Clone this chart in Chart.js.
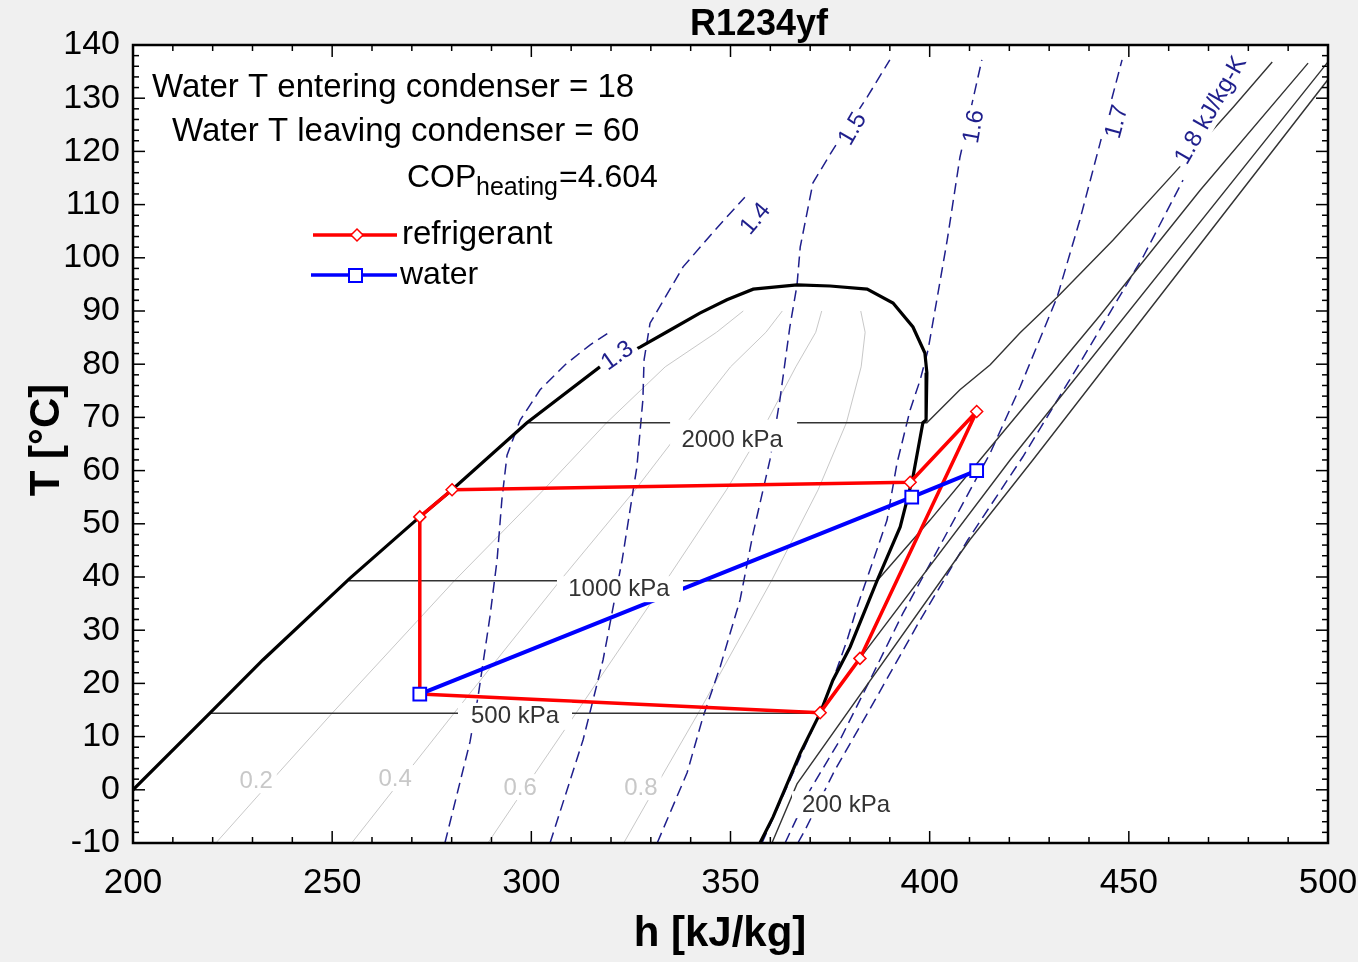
<!DOCTYPE html>
<html lang="en">
<head>
  <meta charset="UTF-8">
  <title>R1234yf</title>
  <script src="https://cdn.jsdelivr.net/npm/chart.js@4"></script>
  <style>
    html, body { margin: 0; padding: 0; background: #f0f0f0; }
    canvas { display: block; }
  </style>
</head>
<body>
  <canvas id="myChart" width="1358" height="962"></canvas>

  <script>
    // all curves are [h kJ/kg, T °C] pairs

    // saturation dome: liquid side, over the top, down the vapour side
    const dome = [
      [196.0, -3.0], [200.0, 0.0], [219.3, 14.4], [232.6, 24.4], [254.5, 39.8], [272.0, 51.3],
      [280.1, 56.4], [298.9, 69.0], [317.2, 79.5], [327.3, 83.2], [334.1, 86.1], [342.3, 89.6],
      [349.1, 92.1], [355.7, 94.1], [366.7, 94.9], [375.0, 94.7], [384.3, 94.1], [390.8, 91.5],
      [395.8, 87.0], [398.8, 82.1], [399.3, 78.4], [399.1, 69.5], [398.3, 69.0], [395.8, 58.8],
      [392.6, 49.4], [386.8, 39.3], [380.0, 26.8], [375.7, 20.6], [372.5, 14.4], [367.5, 6.9],
      [360.7, -5.1], [357.4, -10.0], [356.2, -12.3]
    ];

    // isobars
    const p2000 = [[298.9, 69.0], [399.3, 69.0], [407.6, 75.2], [415.2, 79.9], [422.7, 85.9],
      [432.0, 92.6], [446.0, 103.3], [461.6, 116.1], [476.2, 128.3], [486.0, 136.8]];
    const p1000 = [[254.2, 39.3], [386.8, 39.3], [400.1, 50.7], [412.6, 62.0], [442.8, 89.2],
      [467.9, 112.7], [495.0, 136.6]];
    const p500 = [[219.3, 14.4], [372.5, 14.4], [382.5, 24.7], [420.2, 62.0], [498.8, 135.7], [500.5, 137.3]];
    const p200 = [[357.6, -13.0], [360.4, -10.0], [366.7, 1.1], [410.1, 47.0], [425.9, 62.0], [500.5, 134.0]];

    // vapour quality lines
    const x02 = [[220.8, -10], [232.7, 0], [250.0, 14.4], [280.7, 39.3], [303.1, 56.4], [318.9, 69], [333.6, 79.5], [346.5, 86], [353.2, 90]];
    const x04 = [[254.9, -10], [265.4, 0], [280.6, 14.4], [307.2, 39.3], [326.1, 56.4], [339.0, 69], [350.0, 79.5], [358.9, 86], [363.0, 90]];
    const x06 = [[289.1, -10], [298.1, 0], [311.2, 14.4], [333.8, 39.3], [349.0, 56.4], [359.0, 69], [366.4, 79.5], [371.4, 86], [372.9, 90]];
    const x08 = [[323.2, -10], [330.8, 0], [341.9, 14.4], [360.3, 39.3], [372.0, 56.4], [379.1, 69], [382.8, 79.5], [383.8, 86], [382.7, 90]];

    // isentropes, kJ/kg-K
    const s13 = [[278.3, -10], [284.6, 9.0], [286.6, 17.4], [289.6, 32.5], [291.4, 43.2], [292.6, 54.5],
      [293.9, 62.9], [297.2, 69.5], [302.2, 75.2], [308.5, 79.9], [314.7, 83.6], [319.8, 86.1]];
    const s14 = [[304.7, -10], [313.0, 9.4], [318.0, 24.4], [322.8, 43.2], [326.5, 60.7], [328.0, 73.3],
      [328.3, 80.8], [329.8, 87.7], [338.1, 98.3], [346.1, 105.2], [353.6, 111.4]];
    const s15 = [[331.6, -10], [339.1, 3.2], [343.1, 13.7], [347.4, 23.1], [352.4, 35.7], [355.7, 48.3],
      [359.9, 62.0], [362.4, 73.3], [364.9, 87.0], [366.7, 94.9], [367.5, 102.0], [370.7, 114.1],
      [375.7, 120.3], [384.3, 130.2], [390.0, 137.2]];
    const s16 = [[357.9, -10], [364.9, 1.8], [372.5, 14.6], [375.7, 20.6], [379.3, 28.2], [381.8, 34.4],
      [385.0, 41.3], [389.3, 50.7], [391.8, 61.4], [395.1, 71.4], [397.6, 77.0], [399.6, 82.7],
      [401.8, 92.1], [404.4, 103.3], [407.6, 118.9], [413.1, 137.2]];
    const s17 = [[363.7, -10], [370.0, 0.0], [377.5, 9.4], [385.0, 20.6], [393.3, 33.2], [403.4, 47.0],
      [415.2, 63.3], [422.7, 75.7], [432.0, 92.6], [437.7, 107.1], [442.8, 121.6], [448.3, 137.2]];
    const s18 = [[366.9, -10], [368.7, -7.6], [376.2, 3.7], [386.3, 16.9], [397.6, 31.9], [409.6, 47.0],
      [423.4, 62.6], [437.7, 80.2], [453.6, 100.2], [463.6, 114.6]];

    // heat pump cycle and condenser water
    const refrigerant = [[372.5, 14.5], [382.5, 24.7], [411.8, 71.1], [395.1, 57.8], [280.1, 56.4],
      [272.0, 51.3], [272.0, 18.0], [372.5, 14.5]];
    const water = [[272.0, 18.0], [395.5, 55.0], [411.8, 60.0]];

    const waterIn = 18;
    const waterOut = 60;
    const copHeating = 4.604;

    const FONT = "'Liberation Sans', Arial, sans-serif";
    const NAVY = '#1f1f8c';

    // curve labels; gap = [left, right, up, down] of the white box around the text
    const curveLabels = [
      {text: '2000 kPa', h: 350.4, t: 65.8, size: 24, color: '#333', gap: [62, 65, 20, 12]},
      {text: '1000 kPa', h: 322.0, t: 37.9, size: 24, color: '#333', gap: [62, 64, 12, 14]},
      {text: '500 kPa', h: 295.9, t: 13.9, size: 24, color: '#333', gap: [57, 57, 13, 14]},
      {text: '200 kPa', h: 379.0, t: -2.7, size: 24, color: '#333', gap: [54, 48, 13, 14]},
      {text: '0.2', h: 230.9, t: 1.8, size: 24, color: '#c8c8c8'},
      {text: '0.4', h: 265.8, t: 2.2, size: 24, color: '#c8c8c8'},
      {text: '0.6', h: 297.2, t: 0.5, size: 24, color: '#c8c8c8'},
      {text: '0.8', h: 327.5, t: 0.5, size: 24, color: '#c8c8c8'},
      {text: '1.3', h: 321.5, t: 81.7, size: 24, color: NAVY, angle: -35},
      {text: '1.4', h: 356.1, t: 107.4, size: 24, color: NAVY, angle: -50},
      {text: '1.5', h: 380.5, t: 124.3, size: 24, color: NAVY, angle: -60},
      {text: '1.6', h: 410.9, t: 124.7, size: 24, color: NAVY, angle: -80},
      {text: '1.7', h: 446.8, t: 125.6, size: 24, color: NAVY, angle: -75},
      {text: '1.8 kJ/kg-K', h: 470.4, t: 127.8, size: 24, color: NAVY, angle: -60}
    ];

    const pts = arr => arr.map(([x, y]) => ({x, y}));

    const curve = (arr, color, width, dash) => ({
      data: pts(arr),
      showLine: true,
      borderColor: color,
      borderWidth: width,
      borderDash: dash || [],
      pointRadius: 0,
      clip: 0
    });

    const refMarkers = [6, 6, 6, 6, 6, 6, 0, 0];

    const datasets = [
      {
        data: pts(water), showLine: true, borderColor: '#0000ff', borderWidth: 4,
        pointStyle: 'rect', pointRadius: 9, pointBorderWidth: 2,
        pointBorderColor: '#0000ff', pointBackgroundColor: '#fff', clip: 0
      },
      {
        data: pts(refrigerant), showLine: true, borderColor: '#ff0000', borderWidth: 3.5,
        borderJoinStyle: 'round',
        pointStyle: 'rectRot', pointRadius: refMarkers, pointBorderWidth: 1.5,
        pointBorderColor: '#ff0000', pointBackgroundColor: '#fff', clip: 0
      },
      curve(dome, '#000', 3.2),
      curve(p2000, '#333', 1.4),
      curve(p1000, '#333', 1.4),
      curve(p500, '#333', 1.4),
      curve(p200, '#333', 1.4),
      curve(s13, NAVY, 1.5, [11, 6]),
      curve(s14, NAVY, 1.5, [11, 6]),
      curve(s15, NAVY, 1.5, [11, 6]),
      curve(s16, NAVY, 1.5, [11, 6]),
      curve(s17, NAVY, 1.5, [11, 6]),
      curve(s18, NAVY, 1.5, [11, 6]),
      curve(x02, '#c8c8c8', 1),
      curve(x04, '#c8c8c8', 1),
      curve(x06, '#c8c8c8', 1),
      curve(x08, '#c8c8c8', 1)
    ];

    function boxedText(ctx, text, px, py, l) {
      ctx.save();
      ctx.translate(px, py);
      ctx.rotate((l.angle || 0) * Math.PI / 180);
      ctx.font = l.size + 'px ' + FONT;
      const w = ctx.measureText(text).width;
      const g = l.gap || [w / 2 + 4, w / 2 + 4, 13, 13];
      ctx.fillStyle = '#fff';
      ctx.fillRect(-g[0], -g[2], g[0] + g[1], g[2] + g[3]);
      ctx.fillStyle = l.color;
      ctx.textAlign = 'center';
      ctx.textBaseline = 'middle';
      ctx.fillText(text, 0, 1);
      ctx.restore();
    }

    function seg(ctx, x1, y1, x2, y2) {
      ctx.beginPath();
      ctx.moveTo(x1, y1);
      ctx.lineTo(x2, y2);
      ctx.stroke();
    }

    function label(ctx, str, px, py, font, align) {
      ctx.font = font;
      ctx.textAlign = align || 'left';
      ctx.textBaseline = 'middle';
      ctx.fillText(str, px, py);
    }

    const decorations = {
      id: 'decorations',
      beforeDraw(chart) {
        const {ctx, chartArea: a} = chart;
        ctx.save();
        ctx.fillStyle = '#f0f0f0';
        ctx.fillRect(0, 0, chart.width, chart.height);
        ctx.fillStyle = '#fff';
        ctx.fillRect(a.left, a.top, a.right - a.left, a.bottom - a.top);
        ctx.restore();
      },
      afterDatasetsDraw(chart) {
        const {ctx, scales: {x, y}} = chart;
        curveLabels.forEach(l => boxedText(ctx, l.text, x.getPixelForValue(l.h), y.getPixelForValue(l.t), l));
      },
      afterDraw(chart) {
        const {ctx, chartArea: a, scales: {x, y}} = chart;
        ctx.save();

        // frame and inward ticks
        ctx.strokeStyle = '#000';
        ctx.lineWidth = 1.5;
        for (let v = 200; v <= 500; v += 10) {
          const px = x.getPixelForValue(v);
          const len = v % 50 === 0 ? 12 : 6;
          seg(ctx, px, a.bottom, px, a.bottom - len);
          seg(ctx, px, a.top, px, a.top + len);
        }
        for (let v = -10; v <= 140; v += 2) {
          const py = y.getPixelForValue(v);
          const len = v % 10 === 0 ? 12 : 6;
          seg(ctx, a.left, py, a.left + len, py);
          seg(ctx, a.right, py, a.right - len, py);
        }
        ctx.lineWidth = 2.5;
        ctx.strokeRect(a.left, a.top, a.right - a.left, a.bottom - a.top);

        // titles
        ctx.fillStyle = '#000';
        label(ctx, 'R1234yf', 759, 25, 'bold 36px ' + FONT, 'center');
        label(ctx, 'h [kJ/kg]', 720, 934, 'bold 42px ' + FONT, 'center');
        ctx.save();
        ctx.translate(47, 440);
        ctx.rotate(-Math.PI / 2);
        label(ctx, 'T [°C]', 0, 0, 'bold 42px ' + FONT, 'center');
        ctx.restore();

        // notes
        label(ctx, 'Water T entering condenser = ' + waterIn, 152, 88, '33px ' + FONT);
        label(ctx, 'Water T leaving condenser = ' + waterOut, 172, 132, '33px ' + FONT);
        label(ctx, 'COP', 407, 178, '32px ' + FONT);
        label(ctx, 'heating', 476, 188, '25px ' + FONT);
        label(ctx, '=' + copHeating, 559, 178, '32px ' + FONT);

        // legend
        ctx.lineWidth = 3.5;
        ctx.strokeStyle = '#ff0000';
        seg(ctx, 313, 235, 397, 235);
        ctx.beginPath();
        ctx.moveTo(357, 229); ctx.lineTo(363, 235); ctx.lineTo(357, 241); ctx.lineTo(351, 235);
        ctx.closePath();
        ctx.fillStyle = '#fff';
        ctx.fill();
        ctx.lineWidth = 1.5;
        ctx.stroke();

        ctx.lineWidth = 3.5;
        ctx.strokeStyle = '#0000ff';
        seg(ctx, 311, 275, 397, 275);
        ctx.fillStyle = '#fff';
        ctx.fillRect(349, 269, 13, 13);
        ctx.lineWidth = 2;
        ctx.strokeRect(349, 269, 13, 13);

        ctx.fillStyle = '#000';
        label(ctx, 'refrigerant', 402, 235, '33px ' + FONT);
        label(ctx, 'water', 400, 275, '32px ' + FONT);

        ctx.restore();
      }
    };

    Chart.defaults.font.family = FONT;
    Chart.defaults.color = '#000';

    const ctx = document.getElementById('myChart');

    new Chart(ctx, {
      type: 'scatter',
      data: {datasets: datasets},
      options: {
        responsive: false,
        animation: false,
        events: [],
        layout: {padding: {top: 45, right: 30, left: 0, bottom: 0}},
        elements: {line: {tension: 0}},
        plugins: {
          legend: {display: false},
          tooltip: {enabled: false}
        },
        scales: {
          x: {
            type: 'linear',
            min: 200,
            max: 500,
            ticks: {stepSize: 50, padding: 19, font: {size: 35}, color: '#000'},
            grid: {display: false, drawTicks: false},
            border: {display: false},
            afterFit(scale) {
              scale.height = 119;
              scale.paddingLeft = 0;
              scale.paddingRight = 0;
            }
          },
          y: {
            type: 'linear',
            min: -10,
            max: 140,
            ticks: {stepSize: 10, padding: 13, font: {size: 34}, color: '#000'},
            grid: {display: false, drawTicks: false},
            border: {display: false},
            afterFit(scale) {
              scale.width = 133;
              scale.paddingTop = 0;
              scale.paddingBottom = 0;
            }
          }
        }
      },
      plugins: [decorations]
    });
  </script>
</body>
</html>
